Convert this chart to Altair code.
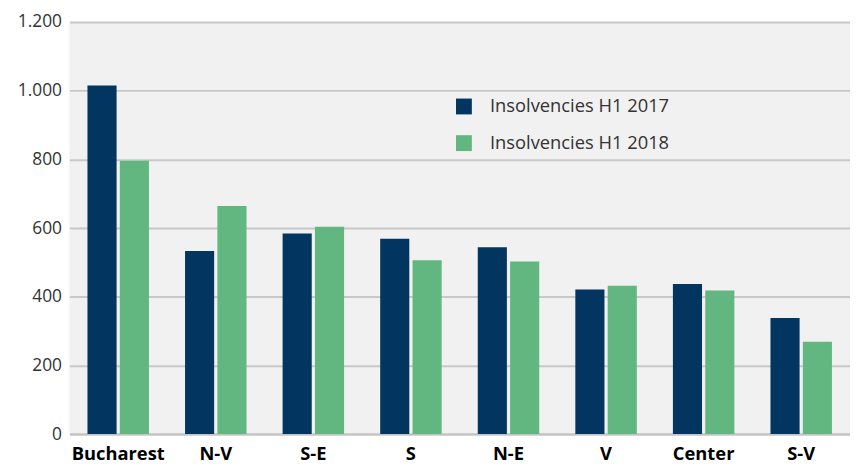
import altair as alt
import pandas as pd

regions = ["Bucharest", "N-V", "S-E", "S", "N-E", "V", "Center", "S-V"]
h1_2017 = [1015, 533, 584, 569, 544, 421, 437, 338]
h1_2018 = [796, 664, 604, 506, 503, 432, 418, 269]
series = ["Insolvencies H1 2017", "Insolvencies H1 2018"]
y_ticks = [0, 200, 400, 600, 800, 1000, 1200]

rows = []
for i, r in enumerate(regions):
    rows.append({"region": r, "series": series[0], "value": h1_2017[i]})
    rows.append({"region": r, "series": series[1], "value": h1_2018[i]})
df = pd.DataFrame(rows)

FONT = "Open Sans"

chart = alt.Chart(df).mark_bar().encode(
    x=alt.X("region:N", sort=regions, title=None,
            scale=alt.Scale(paddingInner=0.37, paddingOuter=0.185),
            axis=alt.Axis(labelAngle=0, labelFontWeight="bold", labelFontSize=18.5,
                          labelColor="#000000", labelFont=FONT, ticks=False, grid=False,
                          domain=True, domainColor="#c4c4c4", domainWidth=2,
                          labelPadding=11)),
    xOffset=alt.XOffset("series:N", sort=series,
                        scale=alt.Scale(paddingInner=0.1, paddingOuter=0)),
    y=alt.Y("value:Q", title=None,
            scale=alt.Scale(domain=[0, 1200], nice=False),
            axis=alt.Axis(values=y_ticks, grid=True, gridColor="#c8c8c8", gridWidth=2,
                          domain=False, ticks=False, labelPadding=8,
                          labelFontSize=17.5, labelColor="#333333", labelFont=FONT,
                          labelExpr="replace(format(datum.value, ','), ',', '.')")),
    color=alt.Color("series:N", sort=series,
                    scale=alt.Scale(domain=series, range=["#023660", "#62b67f"]),
                    legend=alt.Legend(title=None, orient="none", legendX=389, legendY=76,
                                      symbolType="square", symbolSize=256,
                                      symbolStrokeWidth=0, labelFontSize=18.5,
                                      labelFont=FONT, labelColor="#333333", labelLimit=400,
                                      labelOffset=17, rowPadding=18)),
).properties(
    width=788, height=416,
    autosize=alt.AutoSizeParams(type="none"),
    padding={"left": 62, "top": 12, "right": 0, "bottom": 28},
).configure_view(fill="#f1f1f1", stroke="transparent", strokeWidth=0)

chart.save("out.html", embed_options={"renderer": "svg", "actions": False})
